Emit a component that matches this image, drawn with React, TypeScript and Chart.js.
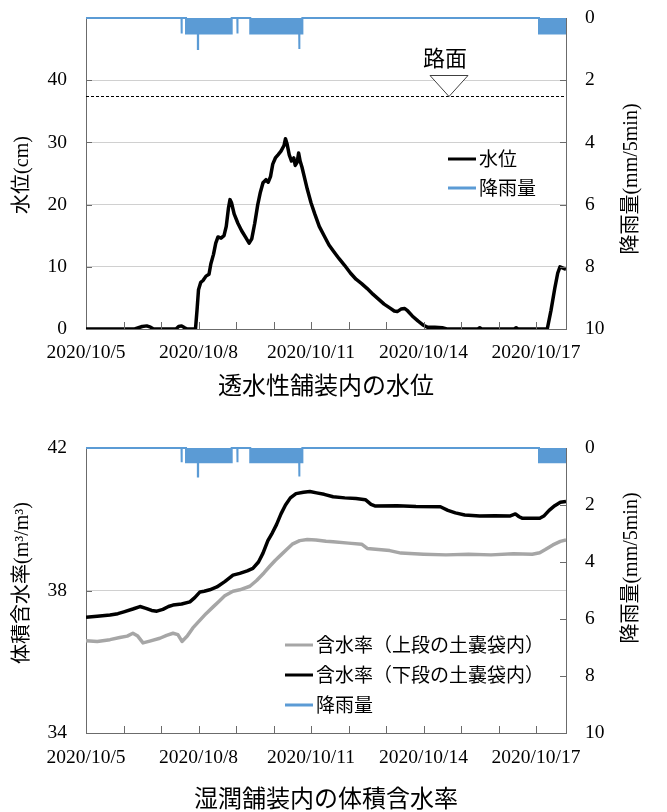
import React, { useEffect, useRef } from 'react';
import { Chart, registerables } from 'chart.js';

Chart.register(...registerables);

const SERIF = "'Liberation Serif', 'Noto Sans CJK JP', serif";
const CJK = "'Noto Sans CJK JP', 'Liberation Serif', sans-serif";
const BLUE = '#5b9bd5';
const AXIS = '#6b6b6b';
const GRID = '#d0d0d0';

// x axis: elapsed days since 2020/10/05 00:00
const xMaxDays = 12.8;
const labelEveryDays = 3;
const firstDay = 5;

// Rainfall (mm/5min): spells given as elapsed-day start / end
const rainStartDay = [2.547, 2.667, 2.983, 4.035, 4.38, 5.685, 12.08];
const rainEndDay = [2.554, 3.885, 2.99, 4.042, 5.77, 5.692, 12.8];
const rainMm = [0.5, 0.5, 1.0, 0.5, 0.5, 1.0, 0.5];

// Water level in the permeable pavement (cm)
const levelDay = [
  0.0, 1.3, 1.4, 1.5, 1.62, 1.72, 1.8, 2.4, 2.47, 2.55, 2.63, 2.7, 2.92, 2.96, 3.0, 3.06, 3.12,
  3.2, 3.28, 3.33, 3.4, 3.46, 3.52, 3.6, 3.68, 3.74, 3.8, 3.84, 3.88, 3.95, 4.05, 4.15, 4.25,
  4.35, 4.42, 4.5, 4.58, 4.65, 4.72, 4.8, 4.86, 4.92, 4.98, 5.05, 5.12, 5.2, 5.28, 5.32, 5.36,
  5.42, 5.48, 5.54, 5.58, 5.63, 5.67, 5.71, 5.76, 5.82, 5.9, 6.0, 6.1, 6.22, 6.35, 6.48, 6.6,
  6.75, 6.9, 7.05, 7.2, 7.35, 7.5, 7.65, 7.8, 7.95, 8.1, 8.22, 8.3, 8.4, 8.5, 8.58, 8.7, 8.85,
  9.0, 9.1, 9.3, 9.5, 9.62, 10.45, 10.5, 10.55, 11.42, 11.47, 11.52, 12.3, 12.4, 12.5, 12.58,
  12.64, 12.72, 12.8,
];
const levelCm = [
  0, 0, 0.2, 0.4, 0.5, 0.3, 0, 0, 0.4, 0.5, 0.2, 0, 0, 3.0, 6.3, 7.5, 7.8,
  8.5, 8.8, 10.5, 12.0, 13.8, 14.8, 14.6, 15.0, 16.5, 19.5, 20.8, 20.3, 18.5, 17.0, 15.8, 14.8,
  13.8, 14.5, 17.0, 20.0, 22.0, 23.5, 24.0, 23.6, 24.5, 26.5, 27.5, 28.0, 28.6, 29.5, 30.6, 29.8,
  28.0, 27.0, 27.5, 26.3, 26.8, 28.3, 27.0, 26.0, 24.5, 22.5, 20.3, 18.5, 16.5, 15.0, 13.5, 12.5,
  11.3, 10.2, 9.0, 8.0, 7.3, 6.5, 5.6, 4.8, 4.0, 3.4, 2.9, 2.8, 3.2, 3.3, 2.9, 2.1, 1.3,
  0.6, 0.3, 0.3, 0.2, 0, 0, 0.2, 0, 0, 0.2, 0, 0, 3.0, 6.5, 9.0,
  10.0, 9.8, 9.6,
];
const roadSurfaceCm = 37.5;
const roadMarkDay = 9.68;

// Volumetric water content (m3/m3), lower sandbag layer
const lowerDay = [
  0.0, 0.3, 0.64, 0.85, 1.01, 1.25, 1.44, 1.6, 1.75, 1.89, 2.05, 2.2, 2.32, 2.55, 2.77, 2.9,
  3.04, 3.15, 3.3, 3.49, 3.7, 3.92, 4.1, 4.3, 4.45, 4.6, 4.72, 4.85, 4.97, 5.08, 5.2, 5.32,
  5.45, 5.6, 5.8, 5.97, 6.15, 6.35, 6.59, 6.9, 7.2, 7.45, 7.6, 7.72, 8.3, 8.8, 9.45, 9.65,
  9.85, 10.1, 10.5, 10.9, 11.3, 11.45, 11.55, 11.63, 12.1, 12.22, 12.35, 12.5, 12.65, 12.8,
];
const lowerVwc = [
  37.25, 37.28, 37.31, 37.35, 37.4, 37.48, 37.55, 37.5, 37.44, 37.42, 37.47, 37.55, 37.59, 37.62, 37.68, 37.8,
  37.96, 37.98, 38.02, 38.1, 38.25, 38.43, 38.48, 38.55, 38.62, 38.8, 39.05, 39.4, 39.62, 39.85, 40.15, 40.4,
  40.6, 40.72, 40.76, 40.78, 40.74, 40.7, 40.63, 40.6, 40.58, 40.55, 40.42, 40.37, 40.38, 40.36, 40.35, 40.25,
  40.18, 40.12, 40.09, 40.1, 40.09, 40.15, 40.07, 40.03, 40.03, 40.1, 40.25, 40.38, 40.48, 40.5,
];

// Volumetric water content (m3/m3), upper sandbag layer
const upperDay = [
  0.0, 0.3, 0.64, 0.9, 1.1, 1.25, 1.38, 1.52, 1.7, 1.97, 2.15, 2.32, 2.45, 2.56, 2.7, 2.85,
  3.04, 3.2, 3.39, 3.55, 3.7, 3.92, 4.1, 4.37, 4.55, 4.75, 4.9, 5.05, 5.2, 5.35, 5.5, 5.7,
  5.9, 6.13, 6.4, 6.59, 7.0, 7.35, 7.5, 7.8, 8.1, 8.4, 9.0, 9.6, 10.2, 10.8, 11.4, 11.9,
  12.1, 12.25, 12.45, 12.65, 12.8,
];
const upperVwc = [
  36.59, 36.57, 36.62, 36.68, 36.72, 36.8, 36.72, 36.53, 36.58, 36.66, 36.74, 36.8, 36.76, 36.57, 36.72, 36.95,
  37.17, 37.35, 37.54, 37.7, 37.85, 37.98, 38.02, 38.12, 38.28, 38.5, 38.68, 38.85, 39.0, 39.15, 39.3, 39.4,
  39.43, 39.42, 39.38, 39.37, 39.33, 39.3, 39.18, 39.15, 39.12, 39.05, 39.02, 39.0, 39.02, 39.0, 39.03, 39.02,
  39.06, 39.15, 39.28, 39.38, 39.42,
];

type Pt = { x: number; y: number };

function pairs(days: number[], values: number[]): Pt[] {
  return days.map((d, i) => ({ x: d, y: values[i] }));
}

// Rainfall as a step outline (largest active intensity per interval)
function rainSteps(): Pt[] {
  const spells = rainStartDay.map((a, i) => ({ a, b: rainEndDay[i], mm: rainMm[i] }));
  const cuts = Array.from(new Set([0, xMaxDays, ...spells.flatMap((s) => [s.a, s.b])])).sort(
    (p, q) => p - q
  );
  const level = (t: number) =>
    Math.max(0, ...spells.filter((s) => s.a <= t && t < s.b).map((s) => s.mm));
  const pts: Pt[] = [];
  for (let i = 0; i < cuts.length - 1; i++) {
    const v = level((cuts[i] + cuts[i + 1]) / 2);
    pts.push({ x: cuts[i], y: v }, { x: cuts[i + 1], y: v });
  }
  return pts;
}

type Series = { label: string; days: number[]; values: number[]; color: string };

type Spec = {
  height: number;
  areaTop: number;
  areaBottom: number;
  yMin: number;
  yMax: number;
  yStep: number;
  hideTopLabel: boolean;
  leftTitle: string;
  rightTitle: string;
  caption: string;
  captionPad: number;
  xLabelPad: number;
  leftTitleY: number;
  rightTitleY: number;
  legendX: number;
  legendY: number;
  legendGap: number;
  series: Series[];
  road: boolean;
};

const levelSpec: Spec = {
  height: 400,
  areaTop: 18,
  areaBottom: 329,
  yMin: 0,
  yMax: 50,
  yStep: 10,
  hideTopLabel: true,
  leftTitle: '水位(cm)',
  rightTitle: '降雨量(mm/5min)',
  caption: '透水性舗装内の水位',
  captionPad: 1,
  xLabelPad: 12,
  leftTitleY: 175,
  rightTitleY: 179,
  legendX: 448,
  legendY: 159,
  legendGap: 29,
  series: [{ label: '水位', days: levelDay, values: levelCm, color: '#000000' }],
  road: true,
};

const moistureSpec: Spec = {
  height: 412,
  areaTop: 48,
  areaBottom: 333,
  yMin: 34,
  yMax: 42,
  yStep: 4,
  hideTopLabel: false,
  leftTitle: '体積含水率(m³/m³)',
  rightTitle: '降雨量(mm/5min)',
  caption: '湿潤舗装内の体積含水率',
  captionPad: 0,
  xLabelPad: 13,
  leftTitleY: 183,
  rightTitleY: 168,
  legendX: 285,
  legendY: 245,
  legendGap: 30,
  series: [
    { label: '含水率（上段の土嚢袋内）', days: upperDay, values: upperVwc, color: '#a6a6a6' },
    { label: '含水率（下段の土嚢袋内）', days: lowerDay, values: lowerVwc, color: '#000000' },
  ],
  road: false,
};

function overlayPlugin(spec: Spec) {
  return {
    id: 'panelOverlay',
    afterDatasetsDraw(chart: any) {
      const { ctx, chartArea: a, scales } = chart;
      const x = scales.x;
      const y = scales.y;
      const y2 = scales.y2;
      ctx.save();

      // inward tick marks
      ctx.strokeStyle = AXIS;
      ctx.lineWidth = 1;
      ctx.beginPath();
      for (let d = 1; d < xMaxDays; d++) {
        const px = Math.round(x.getPixelForValue(d)) + 0.5;
        ctx.moveTo(px, a.bottom);
        ctx.lineTo(px, a.bottom - 7);
      }
      y.ticks.forEach((t: any) => {
        if (t.value > spec.yMin && t.value < spec.yMax) {
          const py = Math.round(y.getPixelForValue(t.value)) + 0.5;
          ctx.moveTo(a.left, py);
          ctx.lineTo(a.left + 6, py);
        }
      });
      y2.ticks.forEach((t: any) => {
        if (t.value > 0 && t.value < 10) {
          const py = Math.round(y2.getPixelForValue(t.value)) + 0.5;
          ctx.moveTo(a.right, py);
          ctx.lineTo(a.right - 6, py);
        }
      });
      ctx.stroke();

      // road surface level
      if (spec.road) {
        const ry = Math.round(y.getPixelForValue(roadSurfaceCm)) + 0.5;
        ctx.strokeStyle = '#000';
        ctx.setLineDash([3, 2]);
        ctx.beginPath();
        ctx.moveTo(a.left, ry);
        ctx.lineTo(a.right, ry);
        ctx.stroke();
        ctx.setLineDash([]);
        const rx = x.getPixelForValue(roadMarkDay);
        ctx.beginPath();
        ctx.moveTo(rx, ry);
        ctx.lineTo(rx - 19, ry - 21);
        ctx.lineTo(rx + 19, ry - 21);
        ctx.closePath();
        ctx.fillStyle = '#fff';
        ctx.fill();
        ctx.strokeStyle = '#404040';
        ctx.stroke();
        ctx.fillStyle = '#000';
        ctx.font = `22px ${CJK}`;
        ctx.textAlign = 'center';
        ctx.textBaseline = 'middle';
        ctx.fillText('路面', rx - 4, ry - 39);
      }
      ctx.restore();
    },
    afterDraw(chart: any) {
      const { ctx } = chart;
      ctx.save();
      ctx.fillStyle = '#000';
      ctx.textBaseline = 'middle';
      ctx.textAlign = 'center';
      ctx.font = `20px ${SERIF}`;
      const rotated = (text: string, cx: number, cy: number) => {
        ctx.save();
        ctx.translate(cx, cy);
        ctx.rotate(-Math.PI / 2);
        ctx.fillText(text, 0, 0);
        ctx.restore();
      };
      rotated(spec.leftTitle, 23, spec.leftTitleY);
      rotated(spec.rightTitle, 632, spec.rightTitleY);

      // legend
      ctx.textAlign = 'left';
      ctx.font = `19px ${CJK}`;
      chart.data.datasets.forEach((ds: any, i: number) => {
        const ly = spec.legendY + i * spec.legendGap;
        ctx.strokeStyle = ds.borderColor;
        ctx.lineWidth = 3;
        ctx.beginPath();
        ctx.moveTo(spec.legendX, ly);
        ctx.lineTo(spec.legendX + 28, ly);
        ctx.stroke();
        ctx.fillText(ds.label, spec.legendX + 31, ly);
      });
      ctx.restore();
    },
  };
}

function makeConfig(spec: Spec): any {
  const datasets: any[] = spec.series.map((s) => ({
    label: s.label,
    data: pairs(s.days, s.values),
    borderColor: s.color,
    backgroundColor: s.color,
    borderWidth: 3.5,
    pointRadius: 0,
    tension: 0,
    fill: false,
    yAxisID: 'y',
    borderJoinStyle: 'round',
  }));
  datasets.push({
    label: '降雨量',
    data: rainSteps(),
    borderColor: BLUE,
    backgroundColor: BLUE,
    borderWidth: 2,
    pointRadius: 0,
    tension: 0,
    fill: 'origin',
    yAxisID: 'y2',
    clip: 3,
  });
  const tickFont = { family: SERIF, size: 19.5 };
  const noOverhang = (s: any) => {
    s.paddingTop = 0;
    s.paddingBottom = 0;
  };
  return {
    type: 'line',
    data: { datasets },
    options: {
      responsive: false,
      animation: false,
      events: [],
      layout: { padding: { top: spec.areaTop, left: 0, right: 0, bottom: 0 } },
      plugins: { legend: { display: false }, tooltip: { enabled: false }, title: { display: false } },
      scales: {
        x: {
          type: 'linear',
          min: 0,
          max: xMaxDays,
          grid: { display: false, drawTicks: false },
          border: { display: true, color: AXIS, width: 1 },
          ticks: {
            stepSize: 1,
            includeBounds: false,
            autoSkip: false,
            maxRotation: 0,
            minRotation: 0,
            padding: spec.xLabelPad,
            color: '#000',
            font: tickFont,
            callback: (v: number) => {
              const d = Math.round(v);
              return Math.abs(v - d) < 1e-6 && d % labelEveryDays === 0 ? `2020/10/${firstDay + d}` : '';
            },
          },
          title: {
            display: true,
            text: spec.caption,
            color: '#000',
            font: { family: CJK, size: 24 },
            padding: { top: 0, bottom: spec.captionPad },
          },
          afterFit: (s: any) => {
            s.height = spec.height - spec.areaBottom;
            s.paddingLeft = 0;
            s.paddingRight = 0;
          },
        },
        y: {
          position: 'left',
          min: spec.yMin,
          max: spec.yMax,
          grid: { color: GRID, lineWidth: 1, drawTicks: false },
          border: { display: true, color: AXIS, width: 1 },
          ticks: {
            stepSize: spec.yStep,
            padding: 19,
            color: '#000',
            font: tickFont,
            callback: (v: number) => (spec.hideTopLabel && v === spec.yMax ? '' : String(v)),
          },
          afterFit: (s: any) => {
            s.width = 86;
            noOverhang(s);
          },
        },
        y2: {
          position: 'right',
          reverse: true,
          min: 0,
          max: 10,
          grid: { display: false, drawTicks: false },
          border: { display: true, color: AXIS, width: 1 },
          ticks: { stepSize: 2, padding: 19, color: '#000', font: tickFont },
          afterFit: (s: any) => {
            s.width = 667 - 566;
            noOverhang(s);
          },
        },
      },
    },
    plugins: [overlayPlugin(spec)],
  };
}

function ChartPanel({ spec }: { spec: Spec }) {
  const ref = useRef<HTMLCanvasElement | null>(null);
  useEffect(() => {
    if (!ref.current) return;
    const chart = new Chart(ref.current, makeConfig(spec));
    return () => chart.destroy();
  }, [spec]);
  return (
    <div style={{ width: 667, height: spec.height }}>
      <canvas ref={ref} width={667} height={spec.height} style={{ display: 'block' }} />
    </div>
  );
}

export default function App() {
  return (
    <div style={{ position: 'absolute', left: 0, top: 0, width: 667, height: 812, background: '#fff' }}>
      <ChartPanel spec={levelSpec} />
      <ChartPanel spec={moistureSpec} />
    </div>
  );
}
